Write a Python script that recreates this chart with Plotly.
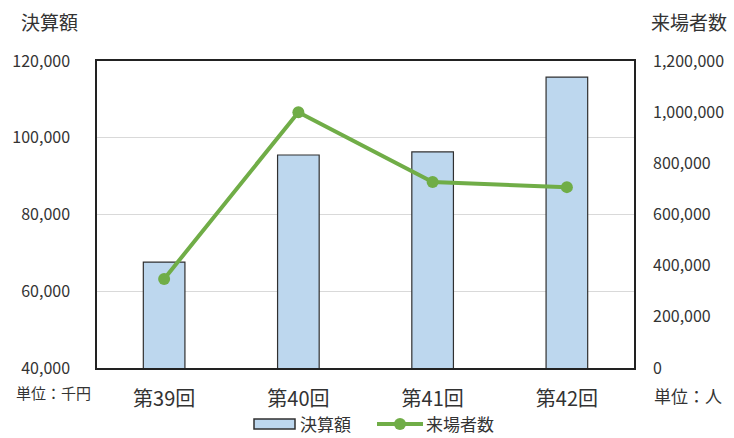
import plotly.graph_objects as go

categories = ["第39回", "第40回", "第41回", "第42回"]
budget = [67600, 95500, 96300, 115800]          # 決算額 (千円)
visitors = [348000, 1000000, 727000, 707000]    # 来場者数 (人)
left_ticks = [40000, 60000, 80000, 100000, 120000]
right_ticks = [0, 200000, 400000, 600000, 800000, 1000000, 1200000]

FONT = "Noto Sans CJK JP"
TXT = "#333333"
BAR_FILL = "#BDD7EE"
BAR_EDGE = "#303030"
LINE_C = "#70AD47"
L, R, T, B = 97, 100, 61, 70
W, H = 734, 438


def px_x(px):
    return (px - L) / (W - L - R)


def px_y(py):
    return 1 - (py - T) / (H - T - B)


fig = go.Figure()
fig.add_trace(go.Bar(
    x=categories, y=budget, name="決算額",
    marker=dict(color=BAR_FILL, line=dict(color=BAR_EDGE, width=1.2)),
    yaxis="y", showlegend=False,
))
fig.add_trace(go.Scatter(
    x=categories, y=visitors, name="来場者数", mode="lines+markers",
    line=dict(color=LINE_C, width=4),
    marker=dict(color=LINE_C, size=12),
    yaxis="y2", showlegend=False,
))

fig.update_layout(
    width=W, height=H,
    margin=dict(l=L, r=R, t=T, b=B, autoexpand=False),
    plot_bgcolor="white", paper_bgcolor="white",
    font=dict(family=FONT, color=TXT, size=13),
    bargap=0.69,
    showlegend=False,
    xaxis=dict(
        showline=True, linecolor="#222222", linewidth=1.5, mirror=True,
        tickfont=dict(size=20, color=TXT), ticks="",
        ticklabelstandoff=12, automargin=False,
    ),
    yaxis=dict(
        range=[40000, 120000], tickvals=left_ticks,
        tickformat=",", showgrid=True, gridcolor="#D9D9D9", gridwidth=1,
        showline=True, linecolor="#222222", linewidth=1.5, mirror=True,
        ticks="", ticklabelstandoff=22, zeroline=False, automargin=False,
        tickfont=dict(size=16, color=TXT),
    ),
    yaxis2=dict(
        range=[0, 1200000], tickvals=right_ticks, tickformat=",",
        overlaying="y", side="right", showgrid=False, zeroline=False,
        ticks="", ticklabelstandoff=18, automargin=False,
        tickfont=dict(size=16, color=TXT),
    ),
)

# axis titles and unit notes
anns = [
    ("決算額", 49, 22, 19, "center"),
    ("来場者数", 689, 22, 19, "center"),
    ("単位：千円", 53, 392, 15, "center"),
    ("単位：人", 688, 395, 17, "center"),
]
for text, px, py, fs, anc in anns:
    fig.add_annotation(
        text=text, showarrow=False, xref="paper", yref="paper",
        x=px_x(px), y=px_y(py), xanchor=anc, yanchor="middle",
        font=dict(size=fs, color=TXT, family=FONT),
    )

# legend (drawn manually to get the wide bar swatch)
LEG_Y = 423
fig.add_shape(type="rect", xref="paper", yref="paper",
              x0=px_x(254), x1=px_x(295), y0=px_y(LEG_Y + 6), y1=px_y(LEG_Y - 4),
              fillcolor=BAR_FILL, line=dict(color=BAR_EDGE, width=1.5))
fig.add_annotation(text="決算額", showarrow=False, xref="paper", yref="paper",
                   x=px_x(299), y=px_y(LEG_Y), xanchor="left", yanchor="middle",
                   borderpad=0,
                   font=dict(size=17, color=TXT, family=FONT))
fig.add_shape(type="line", xref="paper", yref="paper",
              x0=px_x(377), x1=px_x(423), y0=px_y(LEG_Y + 1), y1=px_y(LEG_Y + 1),
              line=dict(color=LINE_C, width=4))
fig.add_shape(type="circle", xref="paper", yref="paper",
              x0=px_x(394), x1=px_x(406), y0=px_y(LEG_Y + 7), y1=px_y(LEG_Y - 5),
              fillcolor=LINE_C, line=dict(color=LINE_C, width=0))
fig.add_annotation(text="来場者数", showarrow=False, xref="paper", yref="paper",
                   x=px_x(425), y=px_y(LEG_Y), xanchor="left", yanchor="middle",
                   borderpad=0,
                   font=dict(size=17, color=TXT, family=FONT))

fig.write_html(
    "out.html",
    config={"displayModeBar": False},
    post_script="document.body.style.margin='0';document.body.style.overflow='hidden';",
)
